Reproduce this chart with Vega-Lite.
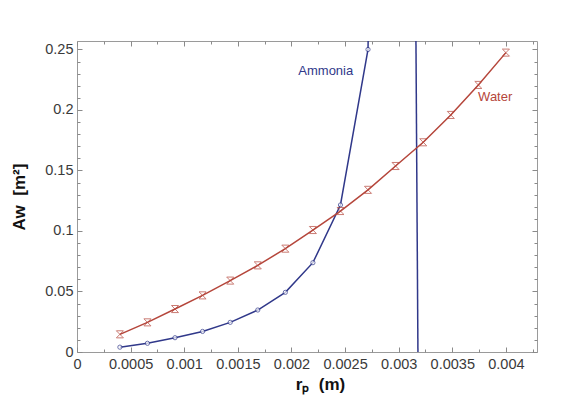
{
  "$schema": "https://vega.github.io/schema/vega-lite/v6.json",
  "width": 460,
  "height": 311,
  "autosize": "none",
  "padding": {"left": 77, "top": 41, "right": 36, "bottom": 48},
  "background": "white",
  "config": {
    "font": "Liberation Sans",
    "view": {"stroke": "#9a9a9a", "strokeWidth": 1},
    "axis": {
      "grid": false,
      "domain": false,
      "labelFont": "Liberation Sans",
      "labelFontSize": 14.5,
      "labelColor": "#3a3a3a",
      "tickColor": "#8a8a8a",
      "titleFont": "Liberation Sans",
      "titleFontWeight": "bold",
      "titleFontSize": 17,
      "titleColor": "#111111"
    }
  },
  "datasets": {
    "curves": [
      {"fluid": "Ammonia", "branch": "a", "kind": "sample", "rp": 0.0004, "aw": 0.004},
      {"fluid": "Ammonia", "branch": "a", "kind": "sample", "rp": 0.000657, "aw": 0.0072},
      {"fluid": "Ammonia", "branch": "a", "kind": "sample", "rp": 0.000914, "aw": 0.0118},
      {"fluid": "Ammonia", "branch": "a", "kind": "sample", "rp": 0.001171, "aw": 0.017},
      {"fluid": "Ammonia", "branch": "a", "kind": "sample", "rp": 0.001429, "aw": 0.0245},
      {"fluid": "Ammonia", "branch": "a", "kind": "sample", "rp": 0.001686, "aw": 0.0347},
      {"fluid": "Ammonia", "branch": "a", "kind": "sample", "rp": 0.001943, "aw": 0.0493},
      {"fluid": "Ammonia", "branch": "a", "kind": "sample", "rp": 0.0022, "aw": 0.0738},
      {"fluid": "Ammonia", "branch": "a", "kind": "sample", "rp": 0.002457, "aw": 0.1215},
      {"fluid": "Ammonia", "branch": "a", "kind": "sample", "rp": 0.002714, "aw": 0.25},
      {"fluid": "Ammonia", "branch": "a", "kind": "curve", "rp": 0.00274, "aw": 0.4},
      {"fluid": "Ammonia", "branch": "b", "kind": "curve", "rp": 0.003158, "aw": 0.3},
      {"fluid": "Ammonia", "branch": "b", "kind": "curve", "rp": 0.003181, "aw": -0.02},
      {"fluid": "Water", "branch": "w", "kind": "sample", "rp": 0.0004, "aw": 0.0146},
      {"fluid": "Water", "branch": "w", "kind": "sample", "rp": 0.000657, "aw": 0.0245},
      {"fluid": "Water", "branch": "w", "kind": "sample", "rp": 0.000914, "aw": 0.0355},
      {"fluid": "Water", "branch": "w", "kind": "sample", "rp": 0.001171, "aw": 0.0468},
      {"fluid": "Water", "branch": "w", "kind": "sample", "rp": 0.001429, "aw": 0.059},
      {"fluid": "Water", "branch": "w", "kind": "sample", "rp": 0.001686, "aw": 0.0716},
      {"fluid": "Water", "branch": "w", "kind": "sample", "rp": 0.001943, "aw": 0.0854},
      {"fluid": "Water", "branch": "w", "kind": "sample", "rp": 0.0022, "aw": 0.1008},
      {"fluid": "Water", "branch": "w", "kind": "sample", "rp": 0.002457, "aw": 0.1165},
      {"fluid": "Water", "branch": "w", "kind": "sample", "rp": 0.002714, "aw": 0.134},
      {"fluid": "Water", "branch": "w", "kind": "sample", "rp": 0.002971, "aw": 0.1537},
      {"fluid": "Water", "branch": "w", "kind": "sample", "rp": 0.003229, "aw": 0.1733},
      {"fluid": "Water", "branch": "w", "kind": "sample", "rp": 0.003486, "aw": 0.1959},
      {"fluid": "Water", "branch": "w", "kind": "sample", "rp": 0.003743, "aw": 0.2207},
      {"fluid": "Water", "branch": "w", "kind": "sample", "rp": 0.004, "aw": 0.2474}
    ],
    "labels": [
      {"fluid": "Ammonia", "rp": 0.00232, "aw": 0.232},
      {"fluid": "Water", "rp": 0.0039, "aw": 0.2107}
    ]
  },
  "data": {"name": "curves"},
  "layer": [
    {
      "mark": {"type": "line", "clip": true, "strokeWidth": 1.5},
      "encoding": {
        "x": {
          "field": "rp", "type": "quantitative",
          "scale": {"domain": [0, 0.00429], "nice": false, "zero": false},
          "axis": {
            "orient": "bottom",
            "title": "rₚ\u00a0\u00a0(m)",
            "titleX": 243, "titleY": 24, "titleBaseline": "top",
            "values": [0, 0.00025, 0.0005, 0.00075, 0.001, 0.00125, 0.0015, 0.00175, 0.002, 0.00225, 0.0025, 0.00275, 0.003, 0.00325, 0.0035, 0.00375, 0.004, 0.00425],
            "format": "~g",
            "labelExpr": "abs(datum.value*2000 - round(datum.value*2000)) < 0.01 ? datum.label : ''",
            "labelOverlap": false,
            "labelFlush": false,
            "labelPadding": 10,
            "tickSize": {"condition": {"test": "abs(datum.value*2000 - round(datum.value*2000)) < 0.01", "value": -5}, "value": -3}
          }
        },
        "y": {
          "field": "aw", "type": "quantitative",
          "scale": {"domain": [0, 0.257], "nice": false, "zero": false},
          "axis": {
            "orient": "left",
            "title": "Aw\u00a0\u00a0[m²]",
            "titlePadding": 16,
            "values": [0, 0.01, 0.02, 0.03, 0.04, 0.05, 0.06, 0.07, 0.08, 0.09, 0.1, 0.11, 0.12, 0.13, 0.14, 0.15, 0.16, 0.17, 0.18, 0.19, 0.2, 0.21, 0.22, 0.23, 0.24, 0.25],
            "format": "~g",
            "labelExpr": "abs(datum.value*20 - round(datum.value*20)) < 0.01 ? datum.label : ''",
            "labelOverlap": false,
            "labelFlush": false,
            "labelPadding": 9,
            "tickSize": {"condition": {"test": "abs(datum.value*20 - round(datum.value*20)) < 0.01", "value": -5}, "value": -3}
          }
        },
        "detail": {"field": "branch"},
        "order": {"field": "rp"},
        "color": {
          "field": "fluid", "type": "nominal",
          "scale": {"domain": ["Ammonia", "Water"], "range": ["#30388a", "#b5463b"]},
          "legend": null
        }
      }
    },
    {
      "transform": [{"filter": "datum.fluid == 'Ammonia' && datum.kind == 'sample'"}],
      "mark": {"type": "point", "shape": "circle", "filled": true, "fill": "white", "stroke": "#30388a", "strokeWidth": 1, "size": 18},
      "encoding": {
        "x": {
          "field": "rp", "type": "quantitative",
          "scale": {"domain": [0, 0.00429], "nice": false, "zero": false},
          "axis": {
            "orient": "top", "title": null, "labels": false,
            "values": [0, 0.00025, 0.0005, 0.00075, 0.001, 0.00125, 0.0015, 0.00175, 0.002, 0.00225, 0.0025, 0.00275, 0.003, 0.00325, 0.0035, 0.00375, 0.004, 0.00425],
            "tickSize": {"condition": {"test": "abs(datum.value*2000 - round(datum.value*2000)) < 0.01", "value": -5}, "value": -3}
          }
        },
        "y": {
          "field": "aw", "type": "quantitative",
          "scale": {"domain": [0, 0.257], "nice": false, "zero": false},
          "axis": {
            "orient": "right", "title": null, "labels": false,
            "values": [0, 0.01, 0.02, 0.03, 0.04, 0.05, 0.06, 0.07, 0.08, 0.09, 0.1, 0.11, 0.12, 0.13, 0.14, 0.15, 0.16, 0.17, 0.18, 0.19, 0.2, 0.21, 0.22, 0.23, 0.24, 0.25],
            "tickSize": {"condition": {"test": "abs(datum.value*20 - round(datum.value*20)) < 0.01", "value": -5}, "value": -3}
          }
        }
      }
    },
    {
      "transform": [{"filter": "datum.fluid == 'Water' && datum.kind == 'sample'"}],
      "mark": {"type": "point", "shape": "M-1,-1H1L-1,1H1Z", "filled": false, "stroke": "#b5463b", "strokeWidth": 1, "size": 50},
      "encoding": {
        "x": {"field": "rp", "type": "quantitative", "scale": {"domain": [0, 0.00429], "nice": false, "zero": false}, "axis": null},
        "y": {"field": "aw", "type": "quantitative", "scale": {"domain": [0, 0.257], "nice": false, "zero": false}, "axis": null}
      }
    },
    {
      "data": {"name": "labels"},
      "mark": {"type": "text", "font": "Liberation Sans", "fontSize": 13, "align": "center", "baseline": "middle"},
      "encoding": {
        "x": {"field": "rp", "type": "quantitative", "scale": {"domain": [0, 0.00429], "nice": false, "zero": false}, "axis": null},
        "y": {"field": "aw", "type": "quantitative", "scale": {"domain": [0, 0.257], "nice": false, "zero": false}, "axis": null},
        "text": {"field": "fluid"},
        "color": {
          "field": "fluid", "type": "nominal",
          "scale": {"domain": ["Ammonia", "Water"], "range": ["#3d4590", "#b5463b"]},
          "legend": null
        }
      }
    }
  ],
  "resolve": {"axis": {"x": "independent", "y": "independent"}}
}
